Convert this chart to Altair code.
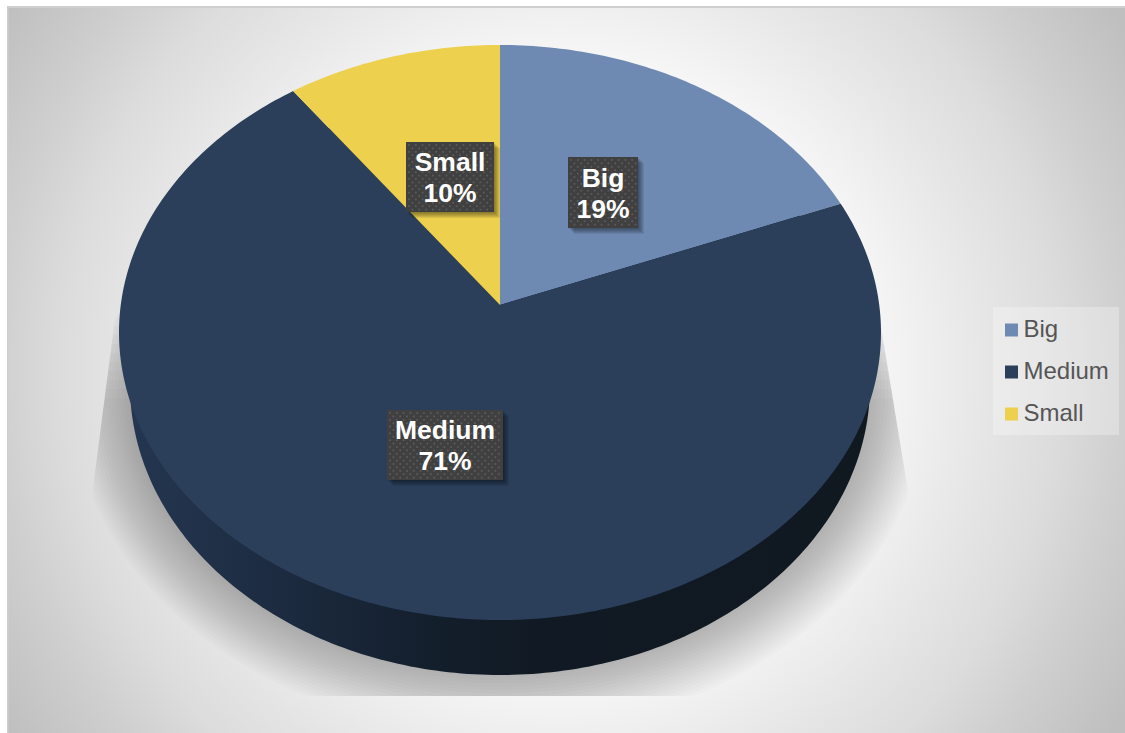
import numpy as np
import pandas as pd
import altair as alt

# Pie values, in percent
categories = ["Big", "Medium", "Small"]
shares = [19, 71, 10]
palette = ["#6e8ab2", "#2b3f5b", "#edd04e"]

# Canvas and pie geometry, in page pixels
W, H = 1125, 733
APEX = (500, 305)
FAR, NEAR, HALF_WIDTH = 260, 315, 381
WALL_CENTER, WALL_RX, WALL_RY = (500, 385), 370, 290
CAST_CENTER, CAST_RX, CAST_RY = (500, 392), 370, 283
SHADOW_FLOOR = 696
GRAD_C, GRAD_R = (560, 370), 660

# Tilted disc: a unit circle sent through a perspective map
k = (NEAR - FAR) / (NEAR + FAR)
a = FAR * (1 + k)
b = HALF_WIDTH * np.sqrt(1 - k * k)


def disc_point(turn):
    th = 2 * np.pi * turn
    u, v = np.sin(th), np.cos(th)
    d = 1 + k * v
    return APEX[0] + b * u / d, APEX[1] - a * v / d


# Top-surface wedges, clockwise from twelve o'clock
rows = []
start = 0.0
for name, share in zip(categories, shares):
    turns = np.linspace(start, start + share / 100, max(int(share * 4), 8))
    rows.append({"part": name, "i": 0, "x": APEX[0], "y": APEX[1]})
    for i, t in enumerate(turns, 1):
        x, y = disc_point(t)
        rows.append({"part": name, "i": i, "x": x, "y": y})
    start += share / 100
wedges = pd.DataFrame(rows)

ang = np.linspace(0, 2 * np.pi, 361)
wall = pd.DataFrame({
    "i": range(361),
    "x": WALL_CENTER[0] + WALL_RX * np.cos(ang),
    "y": WALL_CENTER[1] + WALL_RY * np.sin(ang),
})

# Soft cast shadow: stacked translucent rings held inside a trapezoid and above the floor;
# outer rings start lower so the top of the shadow fades out
rows = []
for ring, d in enumerate(np.linspace(2, 58, 18)):
    xs = CAST_CENTER[0] + (CAST_RX + d) * np.cos(ang)
    ys = CAST_CENTER[1] + (CAST_RY + d) * np.sin(ang)
    ys = np.clip(ys, 245 + 9 * ring, SHADOW_FLOOR)
    left = 125 - (ys - 240) * 35 / 270
    right = 880 + (ys - 320) * 28 / 170
    xs = np.clip(xs, left, right)
    rows += [{"ring": ring, "i": i, "x": x, "y": y} for i, (x, y) in enumerate(zip(xs, ys))]
shadow = pd.DataFrame(rows)

# Data label boxes
boxes = pd.DataFrame([
    {"part": "Big", "x0": 568, "x1": 638, "y0": 157, "y1": 228, "cx": 603, "line1": 179, "line2": 210},
    {"part": "Medium", "x0": 387, "x1": 503, "y0": 410, "y1": 480, "cx": 445, "line1": 431, "line2": 462},
    {"part": "Small", "x0": 406, "x1": 494, "y0": 142, "y1": 212, "cx": 450, "line1": 163, "line2": 194},
])
boxes["pct"] = [f"{s}%" for s in shares]

# Dotted texture on the label boxes
dots = []
for _, r in boxes.iterrows():
    for row, yy in enumerate(np.arange(r.y0 + 3, r.y1 - 1, 3.4)):
        for xx in np.arange(r.x0 + 3 + (row % 2) * 3.4, r.x1 - 1, 6.8):
            dots.append({"x": xx, "y": yy})
dots = pd.DataFrame(dots)

X = alt.Scale(domain=[0, W], range=[0, W])
Y = alt.Scale(domain=[0, H], range=[0, H])
xq = lambda f: alt.X(f, type="quantitative", scale=X, axis=None)
yq = lambda f: alt.Y(f, type="quantitative", scale=Y, axis=None)

backdrop_df = pd.DataFrame([{
    "x0": GRAD_C[0] - GRAD_R, "x1": GRAD_C[0] + GRAD_R,
    "y0": GRAD_C[1] - GRAD_R, "y1": GRAD_C[1] + GRAD_R,
}])
stops = [(0, "#f9f9f9"), (300 / GRAD_R, "#f8f8f8"), (420 / GRAD_R, "#e7e7e7"),
         (500 / GRAD_R, "#dcdcdc"), (565 / GRAD_R, "#cfcfcf"), (1, "#bfbfbf")]
backdrop = alt.Chart(backdrop_df).mark_rect(
    clip=True,
    fill={"gradient": "radial", "x1": 0.5, "y1": 0.5, "r1": 0, "x2": 0.5, "y2": 0.5, "r2": 0.5,
          "stops": [{"offset": o, "color": c} for o, c in stops]},
).encode(x=xq("x0"), x2="x1", y=yq("y0"), y2="y1")

margins_df = pd.DataFrame([
    {"x0": 0, "x1": W, "y0": 0, "y1": 6, "c": "#ffffff"},
    {"x0": 0, "x1": 7, "y0": 0, "y1": H, "c": "#ffffff"},
    {"x0": 7, "x1": W, "y0": 6, "y1": 8, "c": "#cfcfcf"},
    {"x0": 7, "x1": 8.5, "y0": 6, "y1": H, "c": "#cfcfcf"},
])
margins = alt.Chart(margins_df).mark_rect().encode(
    x=xq("x0"), x2="x1", y=yq("y0"), y2="y1", fill=alt.Fill("c:N", scale=None))

shadow_layer = alt.Chart(shadow).mark_line(fill="#000000", fillOpacity=0.015, strokeWidth=0).encode(
    x=xq("x"), y=yq("y"), detail="ring:N", order="i:Q")

wall_fill = {"gradient": "linear", "x1": 0, "y1": 0, "x2": 1, "y2": 0, "stops": [
    {"offset": 0, "color": "#243650"}, {"offset": 0.2, "color": "#1c2b40"},
    {"offset": 0.42, "color": "#131e2b"}, {"offset": 0.55, "color": "#111a24"},
    {"offset": 1, "color": "#101920"}]}
wall_layer = alt.Chart(wall).mark_line(fill=wall_fill, strokeWidth=0).encode(
    x=xq("x"), y=yq("y"), order="i:Q")

pie_scale = alt.Scale(domain=categories, range=palette)
top_layer = alt.Chart(wedges).mark_line(strokeWidth=0).encode(
    x=xq("x"), y=yq("y"), order="i:Q",
    fill=alt.Fill("part:N", scale=pie_scale, sort=categories, legend=alt.Legend(
        title=None, orient="none", legendX=988, legendY=306.5,
        symbolType="square", symbolSize=169, symbolStrokeWidth=0,
        labelFont="Liberation Sans", labelFontSize=24, labelColor="#555555", labelOffset=0,
        rowPadding=18, padding=11.5,
    )),
)

# Pale panel sitting behind the legend entries
legend_panel = alt.Chart(pd.DataFrame([{"x0": 993, "x1": 1119, "y0": 307, "y1": 435}])).mark_rect(
    fill="#ffffff", opacity=0.28
).encode(x=xq("x0"), x2="x1", y=yq("y0"), y2="y1")

box_shadows = [
    alt.Chart(boxes).transform_calculate(
        a=f"datum.x0+{o}", b=f"datum.x1+{o}", c=f"datum.y0+{o}", d=f"datum.y1+{o}"
    ).mark_rect(fill="#000000", opacity=0.08).encode(x=xq("a:Q"), x2="b:Q", y=yq("c:Q"), y2="d:Q")
    for o in (1, 2, 3, 4, 5, 6)
]
box_layer = alt.Chart(boxes).mark_rect(fill="#404040").encode(
    x=xq("x0"), x2="x1", y=yq("y0"), y2="y1")
dot_layer = alt.Chart(dots).mark_square(size=3, color="#5c5c5c", opacity=1, strokeWidth=0).encode(
    x=xq("x"), y=yq("y"))
label_font = dict(font="Liberation Sans", fontWeight="bold", fontSize=26.5, color="#ffffff",
                  align="center", baseline="middle")
name_text = alt.Chart(boxes).mark_text(**label_font).encode(x=xq("cx"), y=yq("line1"), text="part:N")
pct_text = alt.Chart(boxes).mark_text(**label_font).encode(x=xq("cx"), y=yq("line2"), text="pct:N")

chart = alt.layer(
    backdrop, margins, legend_panel, shadow_layer, wall_layer, top_layer,
    *box_shadows, box_layer, dot_layer, name_text, pct_text,
).properties(
    width=W, height=H, padding=0, autosize=alt.AutoSizeParams(type="none"), background="#ffffff",
).resolve_scale(x="shared", y="shared").configure_view(stroke=None)

chart.save("out.html", embed_options={"renderer": "svg", "actions": False})
